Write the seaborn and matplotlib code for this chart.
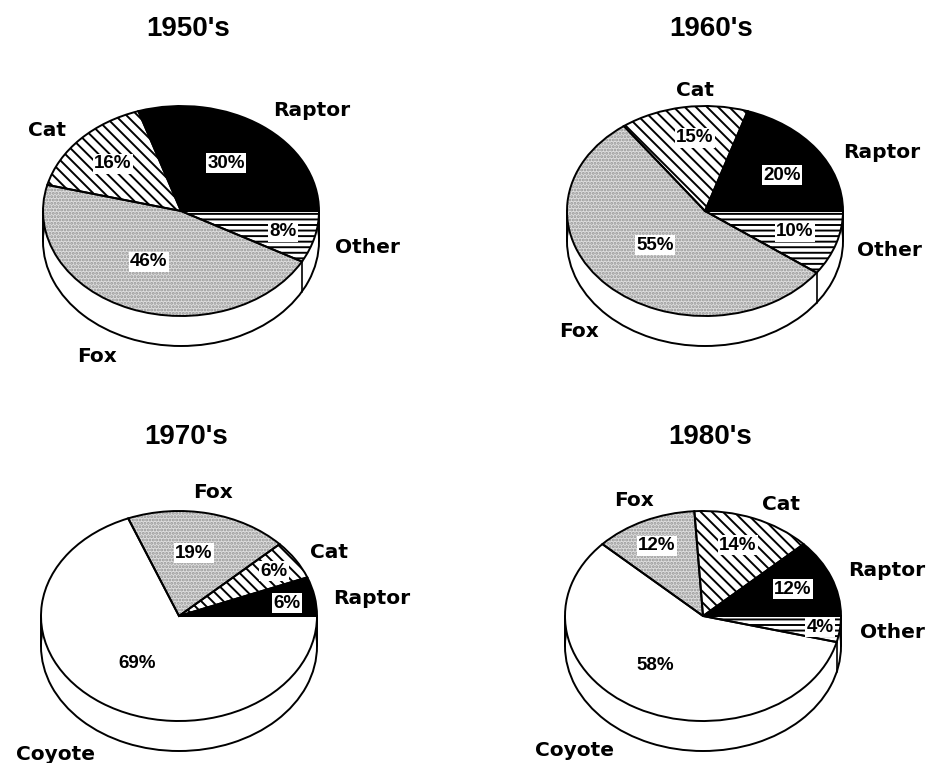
import numpy as np
import matplotlib
matplotlib.use("Agg")
import matplotlib.pyplot as plt
import seaborn as sns

# ---- data ----
titles = ["1950's", "1960's", "1970's", "1980's"]
cats_50 = ["Raptor", "Other", "Fox", "Cat"]
vals_50 = [30, 8, 46, 16]
cats_60 = ["Raptor", "Other", "Fox", "Cat"]
vals_60 = [20, 10, 55, 15]
cats_70 = ["Raptor", "Coyote", "Fox", "Cat"]
vals_70 = [6, 69, 19, 6]
cats_80 = ["Raptor", "Other", "Coyote", "Fox", "Cat"]
vals_80 = [12, 4, 58, 12, 14]

# ---- layout (pixels of the 929x763 canvas) ----
W, H = 929, 763
RX, RY, DEPTH = 138, 105, 30
centres = [(181, 211), (705, 211), (179, 616), (703, 616)]
starts = [108, 72, 21.6, 43.2]
title_pos = [(188, 29), (711, 29), (186, 437), (710, 437)]
name_pos = [
    {"Raptor": (312, 111), "Cat": (47, 130), "Other": (367, 248), "Fox": (97, 356)},
    {"Cat": (695, 90), "Raptor": (882, 153), "Other": (889, 250), "Fox": (579, 332)},
    {"Fox": (213, 492), "Cat": (329, 553), "Raptor": (372, 599), "Coyote": (56, 755)},
    {"Fox": (634, 500), "Cat": (781, 504), "Raptor": (887, 570), "Other": (892, 632), "Coyote": (575, 751)},
]
pct_pos = [
    {"Raptor": (226, 163), "Cat": (113, 164), "Other": (283, 232), "Fox": (149, 262)},
    {"Cat": (695, 138), "Raptor": (782, 175), "Other": (795, 232), "Fox": (655, 245)},
    {"Fox": (194, 553), "Cat": (274, 571), "Raptor": (287, 603), "Coyote": (137, 664)},
    {"Fox": (657, 546), "Cat": (738, 545), "Raptor": (793, 589), "Other": (820, 627), "Coyote": (655, 666)},
]

styles = {
    "Raptor": dict(facecolor="black", hatch=None, edgecolor="black"),
    "Other": dict(facecolor="white", hatch="---", edgecolor="black"),
    "Fox": dict(facecolor="#dedede", hatch=".....", edgecolor="#949494"),
    "Cat": dict(facecolor="white", hatch="\\\\\\", edgecolor="black"),
    "Coyote": dict(facecolor="white", hatch=None, edgecolor="black"),
}

sns.set_theme(style="white")
plt.rcParams["font.family"] = ["Liberation Sans", "DejaVu Sans"]
plt.rcParams["hatch.linewidth"] = 1.4

fig = plt.figure(figsize=(W / 100, H / 100), dpi=100, facecolor="white")


def fx(x):
    return x / W


def fy(y):
    return 1 - y / H


def draw(idx, cats, vals):
    cx, cy = centres[idx]
    xpad, ypad = 1.1, 1.1
    d = DEPTH / RY
    ybot = -1 - d - 0.1
    left = cx - xpad * RX
    bottom = cy + (-ybot) * RY
    ax = fig.add_axes([fx(left), fy(bottom), 2 * xpad * RX / W, (ypad - ybot) * RY / H])
    ax.patch.set_alpha(0)
    # side wall: same pie shifted down, then fill between rims
    ax.pie([1], radius=1, center=(0, -d), colors=["white"],
           wedgeprops=dict(edgecolor="black", linewidth=1.4))
    # fill layer with the hatching
    wedges, _ = ax.pie(vals, startangle=starts[idx], counterclock=False, radius=1,
                       wedgeprops=dict(linewidth=0))
    for w, c in zip(wedges, cats):
        st = styles[c]
        w.set_facecolor(st["facecolor"])
        w.set_edgecolor(st["edgecolor"])
        if st["hatch"]:
            w.set_hatch(st["hatch"])
    # outline layer
    outline, _ = ax.pie(vals, startangle=starts[idx], counterclock=False, radius=1,
                        colors=["none"] * len(vals),
                        wedgeprops=dict(edgecolor="black", linewidth=1.4))
    ax.set_aspect("auto")
    ax.set_xlim(-xpad, xpad)
    ax.set_ylim(ybot, ypad)
    ax.plot([-1, -1], [0, -d], color="black", lw=1.4)
    ax.plot([1, 1], [0, -d], color="black", lw=1.4)
    # vertical edges where slices meet on the front rim
    for w in outline:
        a = np.deg2rad(w.theta1)
        if np.sin(a) < -0.02:
            ax.plot([np.cos(a)] * 2, [np.sin(a), np.sin(a) - d], color="black", lw=1.2)
    fig.text(fx(title_pos[idx][0]), fy(title_pos[idx][1]), titles[idx], ha="center", va="center",
             fontsize=20, fontweight="bold", color="black")
    for c, v in zip(cats, vals):
        x, y = name_pos[idx][c]
        fig.text(fx(x), fy(y), c, ha="center", va="center", fontsize=14.5,
                 fontweight="bold", color="black", family="DejaVu Sans")
        x, y = pct_pos[idx][c]
        fig.text(fx(x), fy(y), f"{v}%", ha="center", va="center", fontsize=13.5,
                 fontweight="bold", color="black",
                 bbox=dict(facecolor="white", edgecolor="none", pad=1.2))


draw(0, cats_50, vals_50)
draw(1, cats_60, vals_60)
draw(2, cats_70, vals_70)
draw(3, cats_80, vals_80)

fig.savefig("out.png", dpi=100, facecolor="white")
